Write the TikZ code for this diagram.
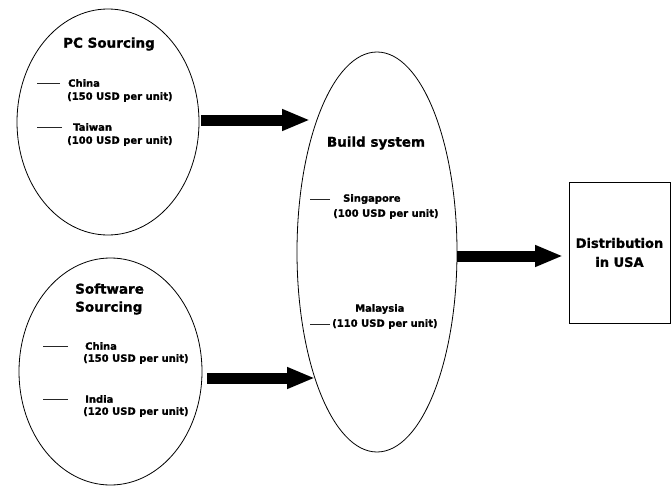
\documentclass[tikz,border=0pt]{standalone}
\usepackage{fontspec}
\setmainfont{DejaVu Sans}[BoldFeatures={FakeBold=1.2}]
\usetikzlibrary{shapes.geometric,arrows.meta}

\begin{document}
\begin{tikzpicture}[x=1pt,y=-1pt,
  region/.style={ellipse,draw,line width=0.8pt,inner sep=0pt},
  title/.style={font=\fontsize{13.5}{18}\selectfont\bfseries,inner sep=0pt},
  item/.style={font=\fontsize{10}{12}\selectfont\bfseries,inner sep=0pt,anchor=west},
  tick/.style={line width=0.8pt,black!85},
  flow/.style={line width=11pt,-{Triangle[length=28pt,width=20pt]}}]

\useasboundingbox (0,0) rectangle (672,487);

%Regionen
\node[region,minimum width=182pt,minimum height=226pt]	(pc)	at (108,122)	{};
\node[region,minimum width=183pt,minimum height=227pt]	(sw)	at (110.5,371.5)	{};
\node[region,minimum width=160pt,minimum height=400pt]	(build)	at (377,252)	{};
\node[draw,line width=0.8pt,minimum width=101pt,minimum height=141pt,align=center,
      font=\fontsize{13}{19}\selectfont\bfseries]	(usa)	at (619.5,252.5)	{Distribution\\in USA};

%Titel
\node[title]				(pctitle)		at (109,44)		{PC Sourcing};
\node[title,anchor=west,align=left]	(swtitle)	at (75,299)		{Software\\Sourcing};
\node[title]				(buildtitle)	at (376,143)	{Build system};

%PC Standorte
\node[item]	(pcchina)		at (68,83)		{China};
\node[item]	(pcchinacost)	at (67,97)		{(150 USD per unit)};
\node[item]	(pctaiwan)		at (73,127)		{Taiwan};
\node[item]	(pctaiwancost)	at (67,141)		{(100 USD per unit)};

%Software Standorte
\node[item]	(swchina)		at (85,346)		{China};
\node[item]	(swchinacost)	at (83,359)		{(150 USD per unit)};
\node[item]	(swindia)		at (85,399)		{India};
\node[item]	(swindiacost)	at (83,412)		{(120 USD per unit)};

%Montage Standorte
\node[item]	(singapore)		at (343,199)	{Singapore};
\node[item]	(singaporecost)	at (333,214)	{(100 USD per unit)};
\node[item]	(malaysia)		at (355,309)	{Malaysia};
\node[item]	(malaysiacost)	at (332,324)	{(110 USD per unit)};

%Striche
\draw[tick] ([xshift=-8pt]pcchina.west)		-- ++(-23,0);
\draw[tick] ([xshift=-11pt]pctaiwan.west)		-- ++(-25,0);
\draw[tick] ([xshift=-17pt]swchina.west)		-- ++(-25,0);
\draw[tick] ([xshift=-17pt]swindia.west)		-- ++(-25,0);
\draw[tick] ([xshift=-13pt]singapore.west)	-- ++(-20,0);
\draw[tick] ([xshift=-2pt]malaysiacost.west)	-- ++(-20,0);

%Pfeile
\coordinate (buildin1)	at (310,120);
\coordinate (buildin2)	at (315,378);
\coordinate (usain)		at (563,256);
\draw[flow] ([xshift=2pt,yshift=2pt]pc.east)		-- (buildin1);
\draw[flow] ([xshift=5pt,yshift=-6.5pt]sw.east)	-- (buildin2);
\draw[flow] ([yshift=-4pt]build.east)			-- (usain);

\end{tikzpicture}
\end{document}
